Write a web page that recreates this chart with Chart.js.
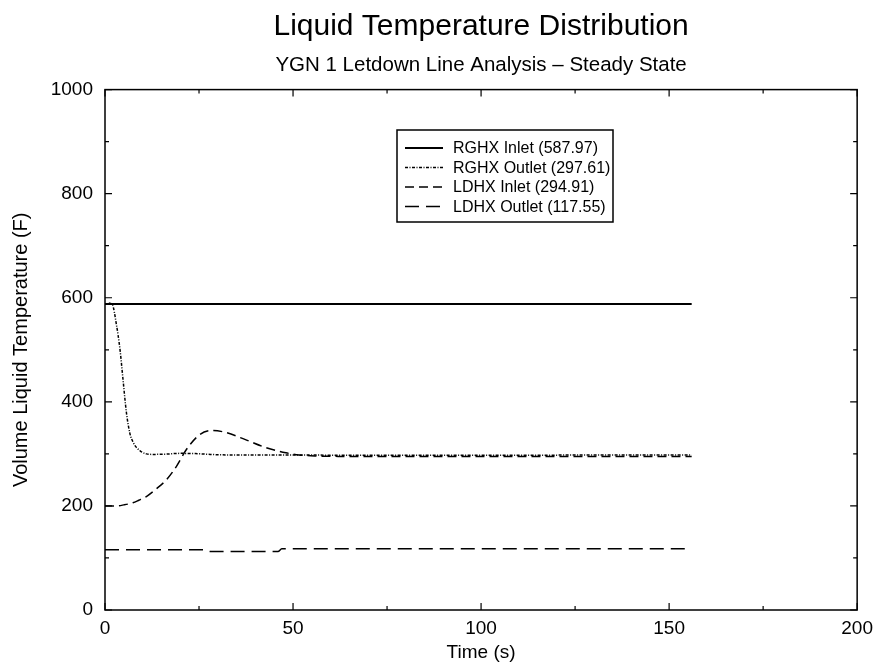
<!DOCTYPE html>
<html>
<head>
<meta charset="utf-8">
<script src="https://cdn.jsdelivr.net/npm/chart.js@4"></script>
<style>
  html, body { margin: 0; padding: 0; background: #fff; }
  #wrap { width: 880px; height: 666px; }
</style>
</head>
<body>
<div id="wrap"><canvas id="chart" width="880" height="666"></canvas></div>
<script>
// series labels (legend)
const seriesLabels = ['RGHX Inlet (587.97)', 'RGHX Outlet (297.61)', 'LDHX Inlet (294.91)', 'LDHX Outlet (117.55)'];

// values
const rghxInletTime = [0, 156];
const rghxInletTemp = [587.97, 587.97];

const rghxOutletTime = [1, 2, 3, 4, 4.8, 5.7, 6.6, 7.5, 8.4, 9.5, 11, 13, 16, 20, 24, 28, 32, 40, 50, 60, 80, 100, 130, 156];
const rghxOutletTemp = [590, 586, 550, 500, 442, 379, 340, 322, 312, 305, 300, 299, 299.5, 301, 300.5, 299, 298, 297.8, 297.7, 297.6, 297.6, 297.6, 297.61, 297.61];

const ldhxInletTime = [0, 3, 5, 7.4, 9, 11, 13.5, 16.3, 19, 21.6, 25.2, 28.6, 32.2, 37.5, 42.8, 48.1, 51.6, 56, 62, 80, 100, 130, 156];
const ldhxInletTemp = [200, 200, 202, 206, 211, 218, 232, 250, 276, 308, 337, 345, 341, 327, 312, 302, 298, 296, 295.2, 294.9, 294.9, 294.91, 294.91];

const ldhxOutletTime = [0, 27, 28, 46, 47, 156];
const ldhxOutletTemp = [116, 116, 112.5, 112.5, 117.5, 117.55];

// axis ticks
const xTicks = [0, 50, 100, 150, 200];
const xMinorTicks = [25, 75, 125, 175];
const yTicks = [0, 200, 400, 600, 800, 1000];
const yMinorTicks = [100, 300, 500, 700, 900];

const FONT = '"Liberation Sans", Arial, Helvetica, sans-serif';

function toPoints(xs, ys) {
  return xs.map((x, i) => ({ x: x, y: ys[i] }));
}

const dashes = [[], [3, 1.5, 1, 1.5], [9, 5], [14, 7]];
const widths = [1.8, 1.5, 1.5, 1.5];

// frame with inward ticks on all four sides
const framePlugin = {
  id: 'frame',
  afterDatasetsDraw(chart) {
    const ctx = chart.ctx;
    const a = chart.chartArea;
    const xs = chart.scales.x, ys = chart.scales.y;
    ctx.save();
    ctx.strokeStyle = '#000';
    ctx.lineWidth = 1.5;
    ctx.setLineDash([]);
    ctx.strokeRect(a.left, a.top, a.right - a.left, a.bottom - a.top);
    ctx.lineWidth = 1.2;
    const tick = (vals, len) => {
      vals.forEach(v => {
        const px = xs.getPixelForValue(v);
        ctx.beginPath();
        ctx.moveTo(px, a.bottom); ctx.lineTo(px, a.bottom - len);
        ctx.moveTo(px, a.top); ctx.lineTo(px, a.top + len);
        ctx.stroke();
      });
    };
    const tickY = (vals, len) => {
      vals.forEach(v => {
        const py = ys.getPixelForValue(v);
        ctx.beginPath();
        ctx.moveTo(a.left, py); ctx.lineTo(a.left + len, py);
        ctx.moveTo(a.right, py); ctx.lineTo(a.right - len, py);
        ctx.stroke();
      });
    };
    tick(xTicks, 7); tick(xMinorTicks, 4);
    tickY(yTicks, 7); tickY(yMinorTicks, 4);
    ctx.restore();
  }
};

// boxed legend inside the plot
const boxLegendPlugin = {
  id: 'boxLegend',
  afterDraw(chart) {
    const ctx = chart.ctx;
    const left = 397, top = 130, w = 216, h = 92;
    ctx.save();
    ctx.fillStyle = '#fff';
    ctx.fillRect(left, top, w, h);
    ctx.strokeStyle = '#000';
    ctx.lineWidth = 1.5;
    ctx.setLineDash([]);
    ctx.strokeRect(left, top, w, h);
    ctx.font = '16px ' + FONT;
    ctx.textBaseline = 'middle';
    ctx.fillStyle = '#000';
    chart.data.datasets.forEach((ds, i) => {
      const y = top + 18 + i * 19.5;
      ctx.setLineDash(ds.borderDash || []);
      ctx.lineWidth = ds.borderWidth;
      ctx.beginPath();
      ctx.moveTo(left + 8, y);
      ctx.lineTo(left + 46, y);
      ctx.stroke();
      ctx.setLineDash([]);
      ctx.fillText(ds.label, left + 56, y + 1);
    });
    ctx.restore();
  }
};

const seriesData = [
  toPoints(rghxInletTime, rghxInletTemp),
  toPoints(rghxOutletTime, rghxOutletTemp),
  toPoints(ldhxInletTime, ldhxInletTemp),
  toPoints(ldhxOutletTime, ldhxOutletTemp)
];

new Chart(document.getElementById('chart'), {
  type: 'line',
  data: {
    datasets: seriesData.map((pts, i) => ({
      label: seriesLabels[i],
      data: pts,
      borderColor: '#000',
      borderWidth: widths[i],
      borderDash: dashes[i],
      pointRadius: 0,
      fill: false,
      cubicInterpolationMode: 'monotone'
    }))
  },
  options: {
    responsive: false,
    animation: false,
    layout: { padding: { top: 0, left: 0, right: 18, bottom: 0 } },
    plugins: {
      legend: { display: false },
      tooltip: { enabled: false },
      title: {
        display: true,
        text: 'Liquid Temperature Distribution',
        fullSize: false,
        color: '#000',
        font: { family: FONT, size: 30, weight: 'normal' },
        padding: { top: 9, bottom: 0 }
      },
      subtitle: {
        display: true,
        text: 'YGN 1 Letdown Line Analysis \u2013 Steady State',
        fullSize: false,
        color: '#000',
        font: { family: FONT, size: 20.5 },
        padding: { top: 8, bottom: 12 }
      }
    },
    scales: {
      x: {
        type: 'linear',
        min: 0,
        max: 200,
        grid: { display: false, drawTicks: false },
        border: { display: false },
        ticks: {
          stepSize: 50,
          color: '#000',
          padding: 7,
          maxRotation: 0,
          font: { family: FONT, size: 19 },
          callback: v => String(v)
        },
        title: {
          display: true,
          text: 'Time (s)',
          color: '#000',
          font: { family: FONT, size: 19 },
          padding: { top: 0, bottom: 2 }
        },
        afterFit(scale) { scale.height = 56; }
      },
      y: {
        min: 0,
        max: 1000,
        grid: { display: false, drawTicks: false },
        border: { display: false },
        ticks: {
          stepSize: 200,
          color: '#000',
          padding: 12,
          font: { family: FONT, size: 19 },
          callback: v => String(v)
        },
        title: {
          display: true,
          text: 'Volume Liquid Temperature (F)',
          color: '#000',
          font: { family: FONT, size: 20 },
          padding: { top: 9, bottom: 0 }
        },
        afterFit(scale) { scale.width = 105; }
      }
    }
  },
  plugins: [framePlugin, boxLegendPlugin]
});
</script>
</body>
</html>
